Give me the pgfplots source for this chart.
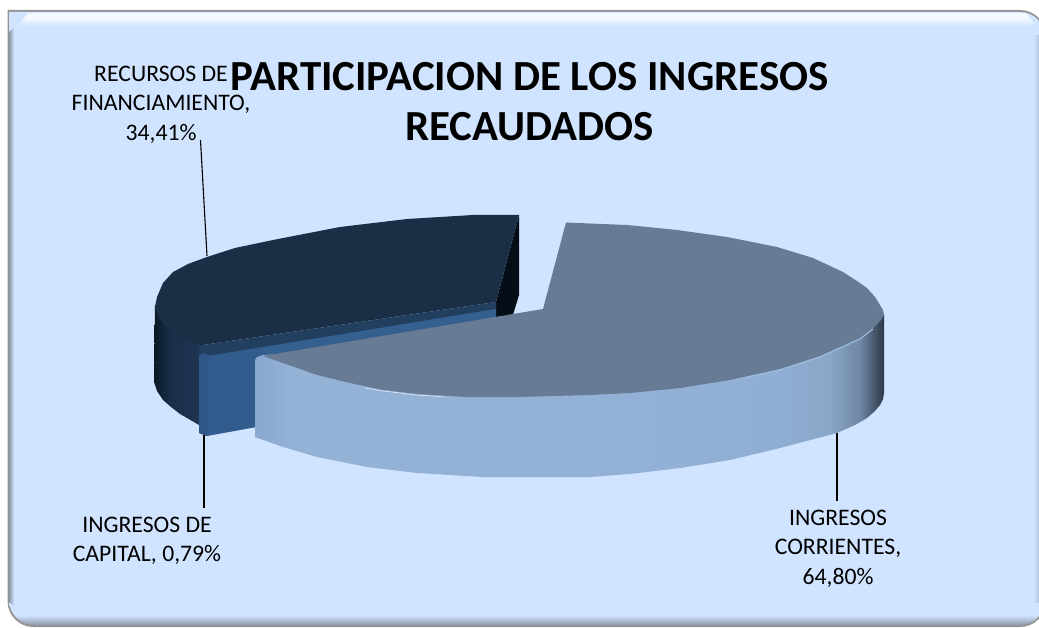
\documentclass[border=0pt]{standalone}
\usepackage{fontspec}
\setmainfont{Carlito}
\usepackage{pgfplots}
\pgfplotsset{compat=1.18}

\definecolor{panelfill}{HTML}{D0E3FF}
\definecolor{panelhi}{HTML}{F4F9FF}
\definecolor{panelbot}{HTML}{8E9AAB}
\definecolor{panelleft}{HTML}{8C98A8}
\definecolor{panelright}{HTML}{B4C4DA}
\definecolor{darktop}{HTML}{1A2E45}
\definecolor{darkside}{HTML}{050E16}
\definecolor{lighttop}{HTML}{687B94}
\definecolor{bluewall}{HTML}{335C8E}
\definecolor{bluerim}{HTML}{2E5788}
\definecolor{bluestrip}{HTML}{33608F}
\definecolor{darkstrip}{HTML}{233F60}
\definecolor{dw1}{RGB}{10,24,38}
\definecolor{dw2}{RGB}{24,44,70}
\definecolor{dw3}{RGB}{32,54,84}
\definecolor{lw1}{RGB}{138,169,206}
\definecolor{lw2}{RGB}{148,177,214}
\definecolor{lw3}{RGB}{147,176,214}
\definecolor{lw4}{RGB}{144,174,211}
\definecolor{lw5}{RGB}{138,166,200}
\definecolor{lw6}{RGB}{110,135,163}
\definecolor{lw7}{RGB}{61,77,95}
\definecolor{lw8}{RGB}{42,55,68}
\definecolor{glint}{RGB}{215,229,245}
\definecolor{rim}{RGB}{156,184,220}

% shadings: the path's box covers 25bp to 75bp
\pgfdeclareverticalshading{panelv}{100bp}{
  color(0bp)=(panelbot); color(25bp)=(panelbot);
  color(25.8bp)=(panelfill); color(100bp)=(panelfill)}
\pgfdeclareverticalshading{panelt}{100bp}{
  color(0bp)=(panelfill); color(25bp)=(panelfill);
  color(55bp)=(panelhi); color(100bp)=(panelhi)}
\pgfdeclarehorizontalshading{panell}{100bp}{
  color(0bp)=(panelleft); color(25bp)=(panelleft);
  color(75bp)=(panelfill); color(100bp)=(panelfill)}
\pgfdeclarehorizontalshading{panelr}{100bp}{
  color(0bp)=(panelfill); color(25bp)=(panelfill);
  color(75bp)=(panelright); color(100bp)=(panelright)}
\pgfdeclarehorizontalshading{darkwall}{100bp}{
  color(0bp)=(dw1); color(25bp)=(dw1);
  color(40bp)=(dw2); color(75bp)=(dw3); color(100bp)=(dw3)}
\pgfdeclarehorizontalshading{lightwall}{100bp}{
  color(0bp)=(lw1); color(25bp)=(lw1);
  color(27.8bp)=(lw2); color(55bp)=(lw3);
  color(66.7bp)=(lw4); color(70.7bp)=(lw5);
  color(73.1bp)=(lw6); color(74.5bp)=(lw7);
  color(75bp)=(lw8); color(100bp)=(lw8)}

\begin{document}
\begin{tikzpicture}
\begin{axis}[
    width=1039pt,
    height=628pt,
    scale only axis,
    hide axis,
    xmin=0, xmax=1039,
    ymin=0, ymax=628,
    y dir=reverse,
]
\useasboundingbox (axis cs:0,0) rectangle (axis cs:1039,628);
% panel
\addplot[draw=none, fill=gray!85, rounded corners=26pt] coordinates {
    (7.5,10) (1046,10) (1046,627) (7.5,627) (7.5,10)};
\addplot[draw=none, shade, shading=panelv, rounded corners=25pt] coordinates {
    (9,12) (1045,12) (1045,625) (9,625) (9,12)};
\addplot[draw=none, shade, shading=panelt] coordinates {
    (18,26) (28,13) (1026,13) (1036,26)};
\addplot[draw=none, shade, shading=panell] coordinates {
    (9,32) (14,28) (14,606) (9,602)};
\addplot[draw=none, shade, shading=panelr] coordinates {
    (1034,36) (1039,36) (1039,602) (1034,602)};

% leader lines
\addplot[black, line width=1.1pt] coordinates {(200.5,140) (207,256)};
\addplot[black, line width=1.1pt] coordinates {(204,432) (204,508)};
\addplot[black, line width=1.1pt] coordinates {(837,430) (837,501)};

% recursos de financiamiento 34,41
\addplot[draw=none, shade, shading=darkwall] coordinates {
    (155,305) (154,382) (157,391) (163,400) (171,407) (180,414) (199,425) (204,425)
    (204,345)};
\addplot[draw=none, fill=darkside] coordinates {
    (519,215) (519,295) (513,315) (496,317) (496,302)};
\addplot[draw=none, fill=darktop] coordinates {
    (519,215) (473,215) (407,219) (340,227) (273,240) (235,248) (207,257) (188,264)
    (173,272) (163,283) (157,297) (155,307) (157,314) (162,322) (173,333) (188,341)
    (203,345) (496,302)};

% ingresos de capital 0,79
\addplot[draw=none, fill=darkstrip] coordinates {
    (199,347) (203,345) (496,302) (496,310) (210,357) (199,357)};
\addplot[draw=none, fill=bluestrip] coordinates {
    (208,356) (496,309) (496,318) (260,358) (208,362)};
\addplot[draw=none, fill=bluewall] coordinates {
    (199,356) (203,353) (210,356) (262,348) (262,426) (207,436) (199,433)};
\addplot[draw=none, fill=bluerim] coordinates {
    (199,356) (203,353) (207,356) (207,436) (199,433)};

% ingresos corrientes 64,80
\addplot[draw=none, shade, shading=lightwall] coordinates {
    (255,360) (255,437) (283,447) (317,457) (367,467) (417,473) (483,477) (590,477)
    (630,474) (680,468) (730,460) (780,448) (837,433) (855,425) (867,418) (875,411)
    (880,405) (883,399) (884,393) (884,315) (700,330) (263,355) (257,357)};
\addplot[draw=none, fill=lighttop] coordinates {
    (566,222.5) (627,225) (677,230) (727,237) (777,247) (813,258) (843,272) (857,281)
    (867,288) (875,297) (880,305) (883,310) (884,315) (881,320) (873,328) (860,338)
    (820,356) (780,369) (730,380) (680,388) (630,393) (590,395) (517,397) (467,397)
    (417,394) (383,390) (350,383) (317,375) (283,363) (263,356) (543,309)};
\addplot[draw=rim, line width=1.2pt] coordinates {
    (730,381) (780,370) (820,357) (860,339) (873,329)};
\addplot[draw=glint, line width=0.7pt] coordinates {
    (365,388) (383,391) (417,395) (445,397)};

% text
\node[align=center, font=\fontsize{42.9}{50}\selectfont\bfseries] at (axis cs:529.5,102)
    {PARTICIPACION DE LOS INGRESOS\\RECAUDADOS};
\node[align=center, font=\fontsize{23.7}{29.5}\selectfont] at (axis cs:161,104.5)
    {RECURSOS DE\\FINANCIAMIENTO,\\34,41\%};
\node[align=center, font=\fontsize{23.7}{29.5}\selectfont] at (axis cs:147,541)
    {INGRESOS DE\\CAPITAL, 0,79\%};
\node[align=center, font=\fontsize{23.7}{29.5}\selectfont] at (axis cs:838,548.5)
    {INGRESOS\\CORRIENTES,\\64,80\%};
\end{axis}
\end{tikzpicture}
\end{document}
